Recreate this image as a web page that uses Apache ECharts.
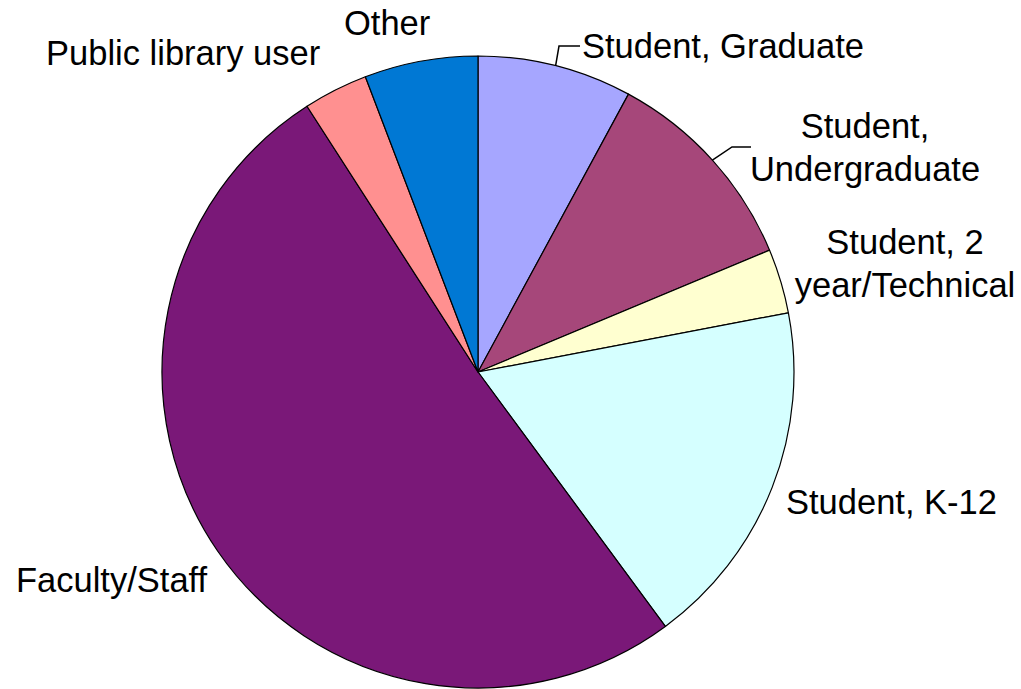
<!DOCTYPE html>
<html>
<head>
<meta charset="utf-8">
<script src="https://cdn.jsdelivr.net/npm/echarts@6/dist/echarts.min.js"></script>
<style>
html,body{margin:0;padding:0;background:#fff;}
#chart{width:1021px;height:689px;}
</style>
</head>
<body>
<div id="chart"></div>
<script>
// Data
var categories = ["Student, Graduate", "Student,\nUndergraduate", "Student, 2\nyear/Technical", "Student, K-12", "Faculty/Staff", "Public library user", "Other"];
var values = [7.9, 10.8, 3.3, 17.9, 51.0, 3.3, 5.8];
var colors = ["#A6A6FF", "#A6477A", "#FFFFD0", "#D5FFFF", "#7A1878", "#FF9090", "#0078D4"];

// Label layout (pixel anchors for the label text)
var labelAnchors = [
  {x: 582, y: 46, align: "left", line: true, elbowX: 559, elbowY: 46, endX: 580},
  {x: 865, y: 147, align: "center", line: true, elbowX: 732, elbowY: 147, endX: 751},
  {x: 905, y: 263, align: "center"},
  {x: 786, y: 502, align: "left"},
  {x: 16, y: 580, align: "left"},
  {x: 46, y: 53, align: "left"},
  {x: 344, y: 23, align: "left"}
];

var chart = echarts.init(document.getElementById("chart"), null, {renderer: "svg"});
var data = categories.map(function (c, i) {
  return {
    name: c, value: values[i],
    itemStyle: {color: colors[i]},
    labelLine: {show: !!labelAnchors[i].line}
  };
});
chart.setOption({
  animation: false,
  backgroundColor: "#ffffff",
  series: [{
    type: "pie",
    center: [478, 372],
    radius: 316,
    startAngle: 90,
    clockwise: true,
    avoidLabelOverlap: false,
    itemStyle: {borderColor: "#000", borderWidth: 1.2},
    label: {
      show: true,
      position: "outside",
      color: "#000",
      fontFamily: "Liberation Sans, Arial, sans-serif",
      fontSize: 34.5,
      lineHeight: 43
    },
    labelLine: {
      show: true,
      length: 10,
      length2: 10,
      lineStyle: {color: "#000", width: 1.5}
    },
    labelLayout: function (params) {
      var a = labelAnchors[params.dataIndex];
      var res = {x: a.x, y: a.y, align: a.align, verticalAlign: "middle"};
      if (a.line && params.labelLinePoints) {
        var p0 = params.labelLinePoints[0];
        res.labelLinePoints = [[p0[0], p0[1]], [a.elbowX, a.elbowY], [a.endX, a.elbowY]];
      }
      return res;
    },
    data: data
  }]
});
</script>
</body>
</html>
